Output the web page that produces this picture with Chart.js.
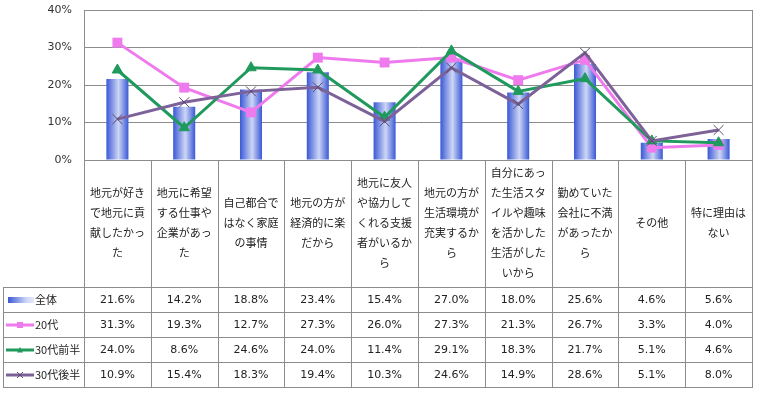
<!DOCTYPE html>
<html>
<head>
<meta charset="utf-8">
<script src="https://cdn.jsdelivr.net/npm/chart.js@4"></script>
<style>
html,body{margin:0;padding:0;background:#fff;}
canvas{display:block;}
</style>
</head>
<body>
<canvas id="c" width="760" height="394"></canvas>
<script>
const categories = [
  '地元が好きで地元に貢献したかった',
  '地元に希望する仕事や企業があった',
  '自己都合ではなく家庭の事情',
  '地元の方が経済的に楽だから',
  '地元に友人や協力してくれる支援者がいるから',
  '地元の方が生活環境が充実するから',
  '自分にあった生活スタイルや趣味を活かした生活がしたいから',
  '勤めていた会社に不満があったから',
  'その他',
  '特に理由はない'
];
const seriesNames = ['全体', '20代', '30代前半', '30代後半'];
const valuesAll = [21.6, 14.2, 18.8, 23.4, 15.4, 27.0, 18.0, 25.6, 4.6, 5.6];
const values20 = [31.3, 19.3, 12.7, 27.3, 26.0, 27.3, 21.3, 26.7, 3.3, 4.0];
const values30a = [24.0, 8.6, 24.6, 24.0, 11.4, 29.1, 18.3, 21.7, 5.1, 4.6];
const values30b = [10.9, 15.4, 18.3, 19.4, 10.3, 24.6, 14.9, 28.6, 5.1, 8.0];
const yTicks = [0, 10, 20, 30, 40];

const BAR_PCT = 0.33;
const CJK = '"Noto Sans CJK JP", "Noto Sans", sans-serif';
const NUM = '"DejaVu Sans", Verdana, sans-serif';

function barGradient(c) {
  const chart = c.chart;
  const xs = chart.scales.x;
  if (!xs || !chart.chartArea) return '#5a78e0';
  const cx = xs.getPixelForValue(c.dataIndex);
  const w = (chart.chartArea.width / categories.length) * BAR_PCT;
  const g = chart.ctx.createLinearGradient(cx - w / 2, 0, cx + w / 2, 0);
  g.addColorStop(0, '#3a58d6');
  g.addColorStop(0.55, '#cdd6f5');
  g.addColorStop(1, '#3a58d6');
  return g;
}

function wrapText(ctx, text, maxW) {
  const lines = [];
  let cur = '';
  for (const ch of text) {
    if (ctx.measureText(cur + ch).width > maxW && cur) {
      lines.push(cur);
      cur = ch;
    } else cur += ch;
  }
  if (cur) lines.push(cur);
  return lines;
}

const tablePlugin = {
  id: 'tablePlugin',
  afterDraw(chart) {
    const ctx = chart.ctx;
    const area = chart.chartArea;
    const xs = chart.scales.x;
    const n = categories.length;
    const colW = area.width / n;
    const tableLeft = 3;
    const labelBottom = 287;
    const rowH = 25;
    const tableBottom = labelBottom + rowH * seriesNames.length;
    ctx.save();
    ctx.strokeStyle = '#8c8c8c';
    ctx.lineWidth = 1;
    ctx.beginPath();
    ctx.moveTo(Math.round(area.right) + 0.5, area.top);
    ctx.lineTo(Math.round(area.right) + 0.5, tableBottom);
    for (let i = 0; i <= n; i++) {
      const x = Math.round(area.left + colW * i) + 0.5;
      ctx.moveTo(x, area.bottom);
      ctx.lineTo(x, tableBottom);
    }
    ctx.moveTo(tableLeft + 0.5, labelBottom);
    ctx.lineTo(tableLeft + 0.5, tableBottom);
    for (let r = 0; r <= seriesNames.length; r++) {
      const y = labelBottom + rowH * r + 0.5;
      ctx.moveTo(tableLeft, y);
      ctx.lineTo(Math.round(area.right) + 1, y);
    }
    ctx.stroke();

    ctx.fillStyle = '#222';
    ctx.font = '11px ' + CJK;
    ctx.textAlign = 'center';
    ctx.textBaseline = 'middle';
    const lh = 20;
    const midY = 223;
    categories.forEach((cat, i) => {
      const cx = xs.getPixelForValue(i);
      const lines = wrapText(ctx, cat, colW - 8);
      const start = midY - (lines.length - 1) * lh / 2;
      lines.forEach((ln, k) => ctx.fillText(ln, cx, start + k * lh));
    });

    const dsets = chart.data.datasets;
    dsets.forEach((ds, r) => {
      const cy = labelBottom + rowH * r + rowH / 2 + 0.5;
      if (ds.type === 'bar') {
        const g = ctx.createLinearGradient(8, 0, 34, 0);
        g.addColorStop(0, '#3a58d6');
        g.addColorStop(0.7, '#cdd6f5');
        g.addColorStop(1, '#e4e9fa');
        ctx.fillStyle = g;
        ctx.fillRect(8, cy - 3, 26, 6);
      } else {
        ctx.strokeStyle = ds.borderColor;
        ctx.lineWidth = 3;
        ctx.beginPath();
        ctx.moveTo(6, cy);
        ctx.lineTo(34, cy);
        ctx.stroke();
        ctx.fillStyle = ds.pointBackgroundColor;
        ctx.strokeStyle = ds.pointBorderColor;
        ctx.lineWidth = 1;
        ctx.beginPath();
        const pr = 3;
        if (ds.pointStyle === 'rect') {
          ctx.fillRect(20 - pr, cy - pr, pr * 2, pr * 2);
        } else if (ds.pointStyle === 'triangle') {
          ctx.moveTo(20 - pr, cy + pr * 0.8);
          ctx.lineTo(20 + pr, cy + pr * 0.8);
          ctx.lineTo(20, cy - pr);
          ctx.closePath();
          ctx.fill();
        } else {
          ctx.moveTo(20 - pr, cy - pr); ctx.lineTo(20 + pr, cy + pr);
          ctx.moveTo(20 + pr, cy - pr); ctx.lineTo(20 - pr, cy + pr);
          ctx.stroke();
        }
      }
      ctx.fillStyle = '#222';
      ctx.font = '11px ' + CJK;
      ctx.textAlign = 'left';
      ctx.fillText(ds.label, 35, cy);
      ctx.font = '11px ' + NUM;
      ctx.textAlign = 'center';
      ds.data.forEach((v, i) => {
        ctx.fillText(v.toFixed(1) + '%', xs.getPixelForValue(i), cy);
      });
    });
    ctx.restore();
  }
};

new Chart(document.getElementById('c'), {
  data: {
    labels: categories,
    datasets: [
      {
        type: 'bar', label: seriesNames[0], data: valuesAll,
        backgroundColor: barGradient, borderWidth: 0,
        barPercentage: BAR_PCT, categoryPercentage: 1, order: 10
      },
      {
        type: 'line', label: seriesNames[1], data: values20,
        borderColor: '#ee7aee', backgroundColor: '#ee7aee', borderWidth: 3,
        pointStyle: 'rect', pointRadius: 7, pointBackgroundColor: '#ee7aee',
        pointBorderColor: '#ee7aee', pointBorderWidth: 0, order: 3, tension: 0
      },
      {
        type: 'line', label: seriesNames[2], data: values30a,
        borderColor: '#1f9a5c', backgroundColor: '#1f9a5c', borderWidth: 3,
        pointStyle: 'triangle', pointRadius: 6, pointBackgroundColor: '#1f9a5c',
        pointBorderColor: '#1f9a5c', pointBorderWidth: 1, order: 2, tension: 0
      },
      {
        type: 'line', label: seriesNames[3], data: values30b,
        borderColor: '#7d6199', backgroundColor: '#7d6199', borderWidth: 3,
        pointStyle: 'crossRot', pointRadius: 7, pointBackgroundColor: '#5a4c6e',
        pointBorderColor: '#5a4c6e', pointBorderWidth: 1, order: 1, tension: 0
      }
    ]
  },
  options: {
    responsive: false,
    animation: false,
    devicePixelRatio: 1,
    layout: { padding: { left: 0, right: 5, top: 10, bottom: 234 } },
    plugins: { legend: { display: false }, tooltip: { enabled: false } },
    scales: {
      x: { type: 'category', display: false, offset: true },
      y: {
        min: 0, max: 40,
        afterFit(s) { s.width = 84; s.paddingTop = 0; s.paddingBottom = 0; },
        afterBuildTicks(s) { s.ticks = yTicks.map(v => ({ value: v })); },
        ticks: {
          padding: 12, color: '#333',
          font: { family: NUM, size: 11 },
          callback: v => v + '%'
        },
        grid: { color: '#8c8c8c', lineWidth: 1, drawTicks: false },
        border: { color: '#8c8c8c', width: 1 }
      }
    }
  },
  plugins: [tablePlugin]
});
</script>
</body>
</html>
